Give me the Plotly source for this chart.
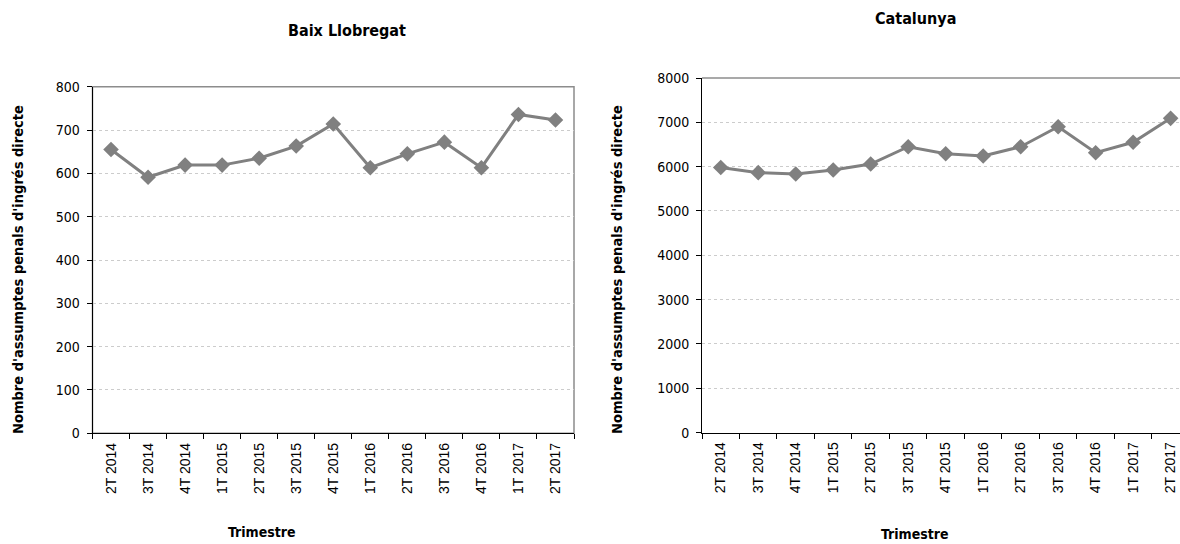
import plotly.graph_objects as go

categories = ["2T 2014", "3T 2014", "4T 2014", "1T 2015", "2T 2015", "3T 2015", "4T 2015",
              "1T 2016", "2T 2016", "3T 2016", "4T 2016", "1T 2017", "2T 2017"]
baix_llobregat = [655, 591, 619, 619, 635, 663, 714, 613, 645, 672, 613, 736, 723]
catalunya = [5980, 5865, 5835, 5925, 6060, 6450, 6290, 6240, 6450, 6900, 6315, 6550, 7090]

left_title = "Baix Llobregat"
right_title = "Catalunya"
y_title = "Nombre d'assumptes penals d'ingrés directe"
x_title = "Trimestre"

W, H = 1180, 544
NARROW = "Liberation Sans Narrow, Arial Narrow, DejaVu Sans Condensed, sans-serif"
ARIAL = "Liberation Sans, Arial, sans-serif"
LINE = "#808080"

def px(x):
    return x / W

def py(y):
    return 1 - y / H

fig = go.Figure()
fig.add_trace(go.Scatter(x=categories, y=baix_llobregat, mode="lines+markers",
                         line=dict(color=LINE, width=3),
                         marker=dict(symbol="diamond", size=12, color=LINE),
                         xaxis="x", yaxis="y", showlegend=False))
fig.add_trace(go.Scatter(x=categories, y=catalunya, mode="lines+markers",
                         line=dict(color=LINE, width=3),
                         marker=dict(symbol="diamond", size=12, color=LINE),
                         xaxis="x2", yaxis="y2", showlegend=False))

xcommon = dict(type="category", tickson="boundaries", ticks="outside", ticklen=5,
               tickcolor="#000", showline=True, linecolor="#000", linewidth=1,
               tickangle=-90, tickfont=dict(family=ARIAL, size=14, color="#000"),
               ticklabelstandoff=3, automargin=False,
               showgrid=False, zeroline=False, categoryorder="array", categoryarray=categories)
ycommon = dict(ticks="outside", ticklen=5, tickcolor="#000", showline=True, linecolor="#000",
               linewidth=1, showgrid=True, gridcolor="#cccccc", griddash="dot", gridwidth=1,
               automargin=False, ticklabelstandoff=4,
               tickfont=dict(family=NARROW, size=14, color="#000"), zeroline=False)

fig.update_layout(
    width=W, height=H, margin=dict(l=0, r=0, t=0, b=0, autoexpand=False),
    paper_bgcolor="white", plot_bgcolor="white",
    xaxis=dict(xcommon, domain=[px(92.5), px(574)], anchor="y", range=[-0.5, 12.5]),
    yaxis=dict(ycommon, domain=[py(433.3), py(86.7)], anchor="x", range=[0, 800], dtick=100),
    xaxis2=dict(xcommon, domain=[px(702), 1.0], anchor="y2", range=[-0.5, 12.25]),
    yaxis2=dict(ycommon, domain=[py(432.6), py(78)], anchor="x2", range=[0, 8000], dtick=1000),
)

# plot-area borders (gray)
fig.add_shape(type="rect", xref="x domain", yref="y domain", x0=0, x1=1, y0=0, y1=1,
              line=dict(color="#8c8c8c", width=1.5), layer="below")
fig.add_shape(type="line", xref="x2 domain", yref="y2 domain", x0=0, x1=1, y0=1, y1=1,
              line=dict(color="#8c8c8c", width=1.5), layer="below")

def label(text, x, y, size, angle=0):
    return dict(text=f"<b>{text}</b>", x=px(x), y=py(y), xref="paper", yref="paper",
                xanchor="center", yanchor="middle", textangle=angle, showarrow=False,
                font=dict(family=NARROW, size=size, color="#000"))

ann = [
    label(left_title, 347, 30, 16),
    label(right_title, 915, 19, 16),
    label(x_title, 262, 532, 14),
    label(x_title, 915, 534, 14),
    label(y_title, 18, 270, 14.5, -90),
    label(y_title, 617, 270, 14.5, -90),
]
fig.update_layout(annotations=ann)

fig.write_html("out.html", config={"displayModeBar": False},
               post_script="document.body.style.margin='0px';document.body.style.overflow='hidden';")
